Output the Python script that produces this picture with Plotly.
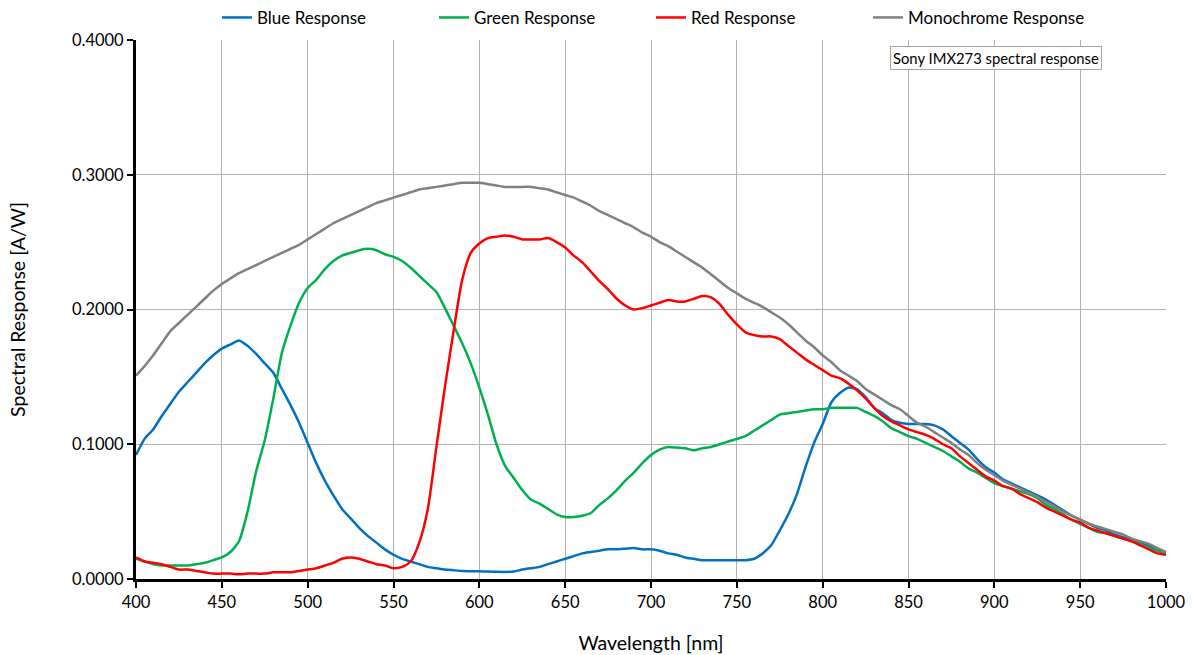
import plotly.graph_objects as go

wavelength = list(range(400, 1001, 5))

blue = [0.092, 0.104, 0.111, 0.121, 0.130, 0.139, 0.146, 0.153, 0.160, 0.166,
        0.171, 0.174, 0.177, 0.173, 0.167, 0.160, 0.153, 0.141, 0.129, 0.116,
        0.101, 0.086, 0.073, 0.062, 0.052, 0.045, 0.038, 0.032, 0.027, 0.022,
        0.018, 0.015, 0.013, 0.011, 0.009, 0.008, 0.007, 0.0065, 0.006, 0.0058,
        0.0057, 0.0055, 0.0053, 0.0052, 0.0055, 0.007, 0.008, 0.009, 0.011, 0.013,
        0.015, 0.017, 0.019, 0.020, 0.021, 0.022, 0.022, 0.0225, 0.023, 0.022,
        0.022, 0.021, 0.019, 0.018, 0.016, 0.015, 0.014, 0.014, 0.014, 0.014,
        0.014, 0.014, 0.015, 0.019, 0.025, 0.036, 0.048, 0.063, 0.083, 0.101,
        0.115, 0.131, 0.138, 0.142, 0.141, 0.135, 0.127, 0.123, 0.118, 0.116,
        0.115, 0.115, 0.115, 0.114, 0.111, 0.106, 0.101, 0.096, 0.089, 0.083,
        0.079, 0.074, 0.071, 0.068, 0.065, 0.062, 0.059, 0.055, 0.051, 0.047,
        0.044, 0.041, 0.038, 0.036, 0.033, 0.031, 0.029, 0.027, 0.025, 0.022,
        0.020]

green = [0.015, 0.013, 0.011, 0.010, 0.010, 0.010, 0.010, 0.011, 0.012, 0.014,
         0.016, 0.020, 0.028, 0.050, 0.080, 0.103, 0.134, 0.168, 0.188, 0.205,
         0.216, 0.222, 0.230, 0.236, 0.240, 0.242, 0.244, 0.245, 0.244, 0.241,
         0.239, 0.236, 0.231, 0.225, 0.219, 0.213, 0.201, 0.188, 0.175, 0.160,
         0.142, 0.122, 0.100, 0.084, 0.075, 0.066, 0.059, 0.056, 0.052, 0.048,
         0.046, 0.046, 0.047, 0.049, 0.055, 0.060, 0.066, 0.073, 0.079, 0.086,
         0.092, 0.096, 0.098, 0.0975, 0.097, 0.0955, 0.097, 0.098, 0.100, 0.102,
         0.104, 0.106, 0.110, 0.114, 0.118, 0.122, 0.123, 0.124, 0.125, 0.126,
         0.126, 0.127, 0.127, 0.127, 0.127, 0.124, 0.121, 0.117, 0.112, 0.109,
         0.106, 0.104, 0.101, 0.098, 0.095, 0.091, 0.087, 0.082, 0.079, 0.075,
         0.071, 0.069, 0.067, 0.065, 0.063, 0.060, 0.055, 0.052, 0.048, 0.044,
         0.041, 0.038, 0.035, 0.034, 0.032, 0.030, 0.028, 0.026, 0.023, 0.021,
         0.018]

red = [0.016, 0.013, 0.012, 0.011, 0.009, 0.007, 0.007, 0.006, 0.005, 0.004,
       0.004, 0.004, 0.0035, 0.004, 0.004, 0.004, 0.005, 0.005, 0.005, 0.006,
       0.007, 0.008, 0.010, 0.012, 0.015, 0.016, 0.015, 0.013, 0.011, 0.010,
       0.008, 0.009, 0.013, 0.027, 0.052, 0.098, 0.143, 0.184, 0.222, 0.242,
       0.249, 0.253, 0.254, 0.255, 0.254, 0.252, 0.252, 0.252, 0.253, 0.250,
       0.246, 0.240, 0.235, 0.228, 0.221, 0.215, 0.208, 0.203, 0.200, 0.201,
       0.203, 0.205, 0.207, 0.206, 0.206, 0.208, 0.210, 0.209, 0.204, 0.196,
       0.189, 0.183, 0.181, 0.180, 0.180, 0.178, 0.173, 0.168, 0.163, 0.159,
       0.155, 0.151, 0.149, 0.145, 0.140, 0.134, 0.127, 0.121, 0.117, 0.114,
       0.111, 0.109, 0.107, 0.104, 0.100, 0.097, 0.091, 0.086, 0.081, 0.076,
       0.073, 0.069, 0.067, 0.063, 0.060, 0.057, 0.053, 0.050, 0.047, 0.044,
       0.042, 0.038, 0.036, 0.034, 0.032, 0.030, 0.028, 0.025, 0.022, 0.019,
       0.018]

mono = [0.151, 0.158, 0.166, 0.175, 0.184, 0.190, 0.196, 0.202, 0.208, 0.214,
        0.219, 0.223, 0.227, 0.230, 0.233, 0.236, 0.239, 0.242, 0.245, 0.248,
        0.252, 0.256, 0.260, 0.264, 0.267, 0.270, 0.273, 0.276, 0.279, 0.281,
        0.283, 0.285, 0.287, 0.289, 0.290, 0.291, 0.292, 0.293, 0.294, 0.294,
        0.294, 0.293, 0.292, 0.291, 0.291, 0.291, 0.291, 0.290, 0.289, 0.287,
        0.285, 0.283, 0.280, 0.277, 0.273, 0.270, 0.267, 0.264, 0.261, 0.257,
        0.254, 0.250, 0.247, 0.243, 0.239, 0.235, 0.231, 0.226, 0.221, 0.216,
        0.212, 0.208, 0.205, 0.202, 0.198, 0.194, 0.189, 0.183, 0.177, 0.172,
        0.166, 0.161, 0.155, 0.151, 0.147, 0.141, 0.137, 0.133, 0.129, 0.126,
        0.121, 0.116, 0.113, 0.109, 0.105, 0.101, 0.096, 0.092, 0.086, 0.081,
        0.077, 0.073, 0.070, 0.067, 0.064, 0.061, 0.057, 0.054, 0.050, 0.047,
        0.044, 0.041, 0.039, 0.037, 0.035, 0.033, 0.030, 0.028, 0.026, 0.023,
        0.020]

series = [
    ("Blue Response", blue, "#0070C0"),
    ("Green Response", green, "#00B050"),
    ("Red Response", red, "#FF0000"),
    ("Monochrome Response", mono, "#808080"),
]

FONT = "Lato, 'Open Sans', sans-serif"

fig = go.Figure()
for name, ys, color in series:
    fig.add_trace(go.Scatter(
        x=wavelength, y=ys, mode="lines", name=name,
        line=dict(color=color, width=2.5, shape="spline", smoothing=0.6),
    ))

fig.update_layout(
    width=1192, height=655,
    margin=dict(l=136, r=26, t=40, b=76, autoexpand=False),
    paper_bgcolor="white", plot_bgcolor="white",
    font=dict(family=FONT, size=16, color="black"),
    legend=dict(orientation="h", x=0.5, xanchor="center", y=1.041, yanchor="middle",
                font=dict(size=17), itemwidth=30, entrywidth=172,
                bgcolor="rgba(0,0,0,0)"),
    annotations=[dict(
        text="Sony IMX273 spectral response", xref="paper", yref="paper",
        x=0.938, y=0.989, xanchor="right", yanchor="top", showarrow=False,
        font=dict(size=14.8, family=FONT), bordercolor="#a6a6a6", borderwidth=1,
        borderpad=2, bgcolor="white",
    )],
)

fig.update_xaxes(
    range=[400, 1000], dtick=50, tick0=400,
    showgrid=True, gridcolor="#b3b3b3", gridwidth=1,
    showline=True, linecolor="black", linewidth=3,
    ticks="outside", ticklen=6, tickwidth=2, tickcolor="black",
    tickfont=dict(size=16.5),
    title=dict(text="Wavelength [nm]", font=dict(size=19.5), standoff=26),
    zeroline=False,
)
fig.update_yaxes(
    range=[0, 0.4], dtick=0.1, tick0=0, tickformat=".4f",
    showgrid=True, gridcolor="#b3b3b3", gridwidth=1,
    showline=True, linecolor="black", linewidth=3,
    ticks="outside", ticklen=6, tickwidth=2, tickcolor="black",
    tickfont=dict(size=16.5),
    title=dict(text="Spectral Response [A/W]", font=dict(size=19.5), standoff=42),
    zeroline=False,
)

fig.write_html("out.html",
               config={"displayModeBar": False},
               post_script="document.body.style.margin='0';document.body.style.padding='0';")
